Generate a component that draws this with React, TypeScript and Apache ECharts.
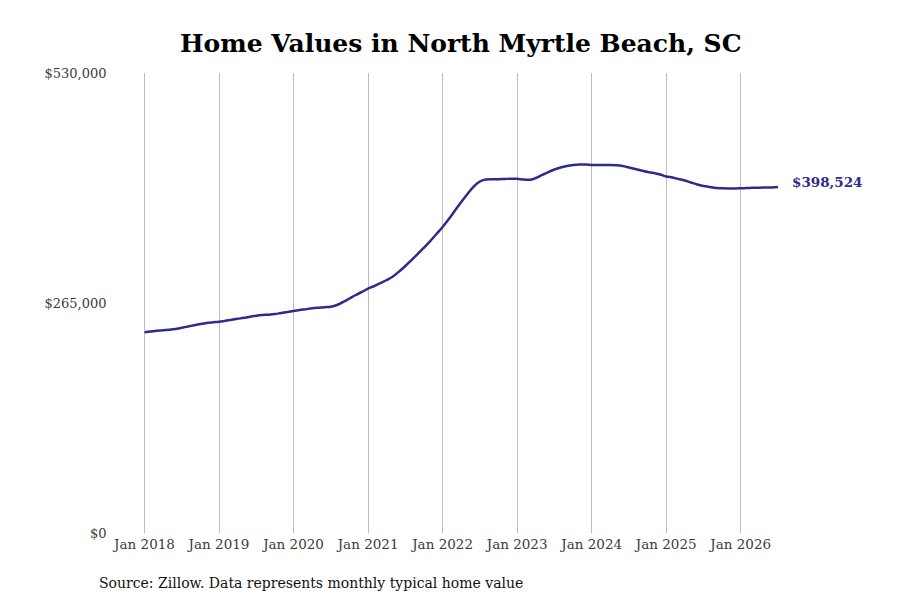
import React, { useEffect, useRef } from "react";
import * as echarts from "echarts";

const FONT = "'DejaVu Serif', serif";

// monthly typical home value, Jan 2018 .. Jul 2026
const startYear = 2018;
const values = [
  231200, 232200, 233000, 233700, 234200, 235000, 236500, 237900, 239400, 240800, 242000, 242800,
  243500, 244500, 245600, 246800, 247900, 249200, 250400, 251200, 251600, 252300, 253500, 254600,
  255800, 256900, 257900, 258900, 259600, 260200, 260700, 262700, 266200, 270200, 274200, 277700,
  281700, 284600, 288000, 291500, 295500, 301300, 307600, 314500, 321500, 328900, 336400, 344500,
  352600, 361800, 371600, 381400, 390600, 399200, 405000, 407300, 407500, 407600, 407900, 408200,
  408100, 407300, 406900, 409000, 412500, 415900, 418800, 421100, 422800, 424000, 424600, 424600,
  424000, 423900, 423900, 424000, 423800, 422800, 421100, 419400, 417700, 415900, 414800, 413100,
  410700, 409600, 407900, 406100, 403800, 401500, 399800, 398600, 397500, 397200, 397000, 397000,
  397200, 397500, 397800, 397900, 398000, 398200, 398524,
];
const monthNames = ["Jan", "Feb", "Mar", "Apr", "May", "Jun", "Jul", "Aug", "Sep", "Oct", "Nov", "Dec"];
const months = values.map((_, i) => `${monthNames[i % 12]} ${startYear + Math.floor(i / 12)}`);
const yTicks = [0, 265000, 530000];

const fmt = (v: number) => "$" + v.toLocaleString("en-US");

const App: React.FC = () => {
  const chartRef = useRef<HTMLDivElement>(null);

  useEffect(() => {
    if (!chartRef.current) return;
    const chart = echarts.init(chartRef.current, undefined, { renderer: "svg" });

    const option: echarts.EChartsOption = {
      animation: false,
      backgroundColor: "#ffffff",
      title: [
        {
          text: "Home Values in North Myrtle Beach, SC",
          left: 175,
          top: 26,
          textStyle: { fontFamily: FONT, fontSize: 25, fontWeight: "bold", color: "#000" },
        },
        {
          text: "Source: Zillow. Data represents monthly typical home value",
          left: 94,
          top: 571,
          textStyle: { fontFamily: FONT, fontSize: 14, fontWeight: "normal", color: "#111" },
        },
      ],
      grid: { left: 144.5, right: 122, top: 73, bottom: 67 },
      xAxis: {
        type: "category",
        data: months,
        boundaryGap: false,
        axisLine: { show: false },
        axisTick: { show: false },
        axisLabel: {
          interval: (i: number) => i % 12 === 0,
          fontFamily: FONT,
          fontSize: 13.5,
          color: "#3a3a3a",
          margin: 4,
        },
        splitLine: {
          show: true,
          interval: (i: number) => i % 12 === 0,
          lineStyle: { color: "#bdbdbd", width: 1 },
        },
      },
      yAxis: {
        type: "value",
        min: yTicks[0],
        max: yTicks[2],
        interval: yTicks[1],
        axisLine: { show: false },
        axisTick: { show: false },
        splitLine: { show: false },
        axisLabel: {
          formatter: (v: number) => fmt(v),
          fontFamily: FONT,
          fontSize: 13,
          color: "#3a3a3a",
          margin: 38,
        },
      },
      series: [
        {
          type: "line",
          data: values,
          showSymbol: false,
          smooth: 0.3,
          lineStyle: { color: "#2f2b8c", width: 2.5 },
          itemStyle: { color: "#2f2b8c" },
          endLabel: {
            show: true,
            formatter: (p: any) => fmt(p.value as number),
            fontFamily: FONT,
            fontSize: 13.5,
            fontWeight: "bold",
            color: "#2f2b8c",
            distance: 14,
            offset: [0, -5],
          },
        },
      ],
    };

    chart.setOption(option);
    return () => chart.dispose();
  }, []);

  return (
    <div
      ref={chartRef}
      style={{ position: "absolute", left: 0, top: 0, width: 900, height: 600 }}
    />
  );
};

export default App;
